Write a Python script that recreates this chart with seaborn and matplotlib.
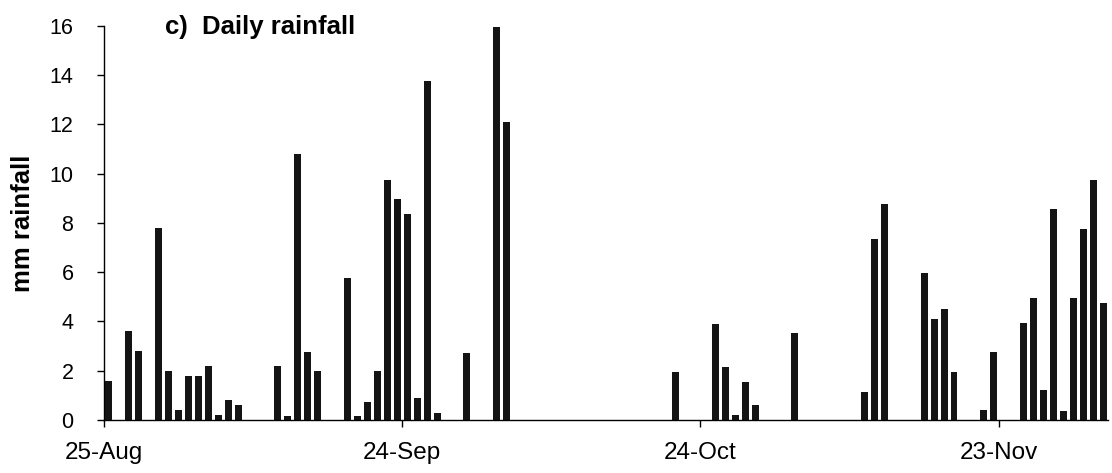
import numpy as np
import pandas as pd
import matplotlib
matplotlib.use("Agg")
import matplotlib.pyplot as plt
import seaborn as sns

# Days counted from 25 August on which rain was recorded, and the daily total (mm)
rain_day = [0, 2, 3, 5, 6, 7, 8, 9, 10, 11, 12, 13,
            17, 18, 19, 20, 21, 24, 25, 26, 27, 28, 29, 30, 31, 32, 33, 36, 39, 40,
            57, 61, 62, 63, 64, 65, 69, 76, 77, 78,
            82, 83, 84, 85, 88, 89, 92, 93, 94, 95, 96, 97, 98, 99, 100]
rain_mm = [1.6, 3.6, 2.8, 7.8, 2.0, 0.4, 1.8, 1.8, 2.2, 0.2, 0.8, 0.6,
           2.2, 0.15, 10.8, 2.75, 2.0, 5.75, 0.15, 0.75, 2.0, 9.75, 8.95, 8.35, 0.9, 13.75, 0.3, 2.7, 15.95, 12.1,
           1.95, 3.9, 2.15, 0.2, 1.55, 0.6, 3.55, 1.15, 7.35, 8.75,
           5.95, 4.1, 4.5, 1.95, 0.4, 2.75, 3.95, 4.95, 1.2, 8.55, 0.35, 4.95, 7.75, 9.75, 4.75]

n_days = 101
tick_days = [0, 30, 60, 90]
tick_labels = ["25-Aug", "24-Sep", "24-Oct", "23-Nov"]
y_ticks = [0, 2, 4, 6, 8, 10, 12, 14, 16]

df = pd.DataFrame({"day": rain_day, "mm": rain_mm})

sns.set_theme(style="ticks")
plt.rcParams["font.family"] = ["Liberation Sans", "DejaVu Sans"]

fig = plt.figure(figsize=(11.12, 4.73), dpi=100)
ax = fig.add_axes([0.0935, 0.112, 0.903, 0.8337])

sns.barplot(data=df, x="day", y="mm", native_scale=True, width=0.7,
            color="#141414", saturation=1, errorbar=None,
            linewidth=0, ax=ax)

ax.set_xlim(-0.5, n_days - 0.5)
ax.set_ylim(0, 16)
ax.set_xticks([d - 0.5 for d in tick_days], tick_labels)
ax.set_yticks(y_ticks, [str(v) for v in y_ticks])

sns.despine(ax=ax)
for side in ("left", "bottom"):
    ax.spines[side].set_color("black")
    ax.spines[side].set_linewidth(1.0)

ax.tick_params(axis="x", direction="out", length=5, width=1, color="black",
               labelsize=17.5, labelcolor="black", pad=11)
ax.tick_params(axis="y", direction="out", length=5, width=1, color="black",
               labelsize=15.5, labelcolor="black", pad=17)

ax.set_xlabel("")
ax.set_ylabel("mm rainfall", fontsize=18.5, fontweight="bold", color="black")
ax.yaxis.set_label_coords(-0.069, 0.5)

ax.text(0.061, 0.978, "c)  Daily rainfall", transform=ax.transAxes,
        fontsize=18.5, fontweight="bold", color="black",
        ha="left", va="baseline")

fig.savefig("out.png", dpi=100, facecolor="white")
